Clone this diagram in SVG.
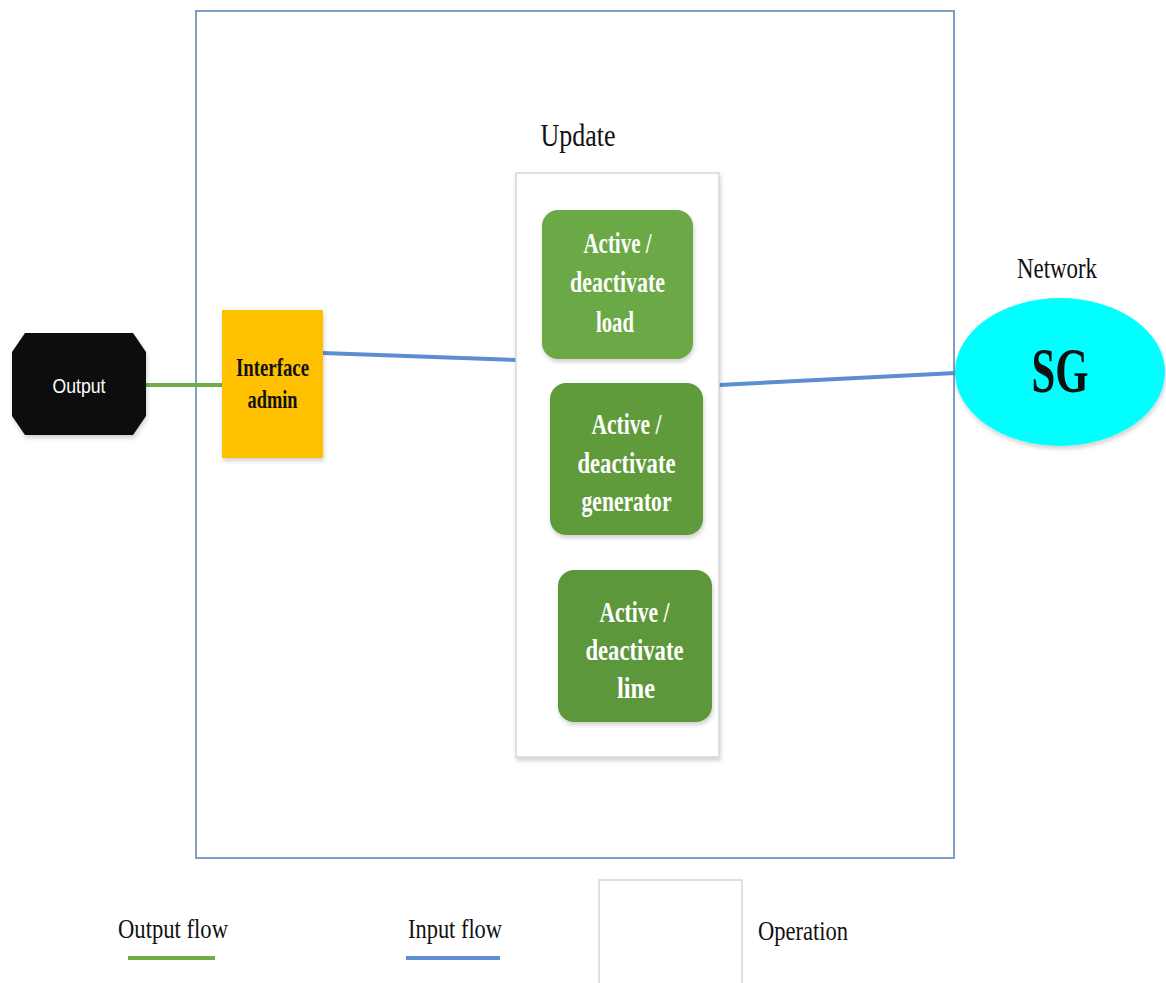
<svg xmlns="http://www.w3.org/2000/svg" width="1166" height="983" viewBox="0 0 1166 983">
<style>
.serif{font-family:"Liberation Serif","Times New Roman",serif;fill:#111}
.op{font-family:"Liberation Serif","Times New Roman",serif;font-weight:bold;fill:#ffffff;text-anchor:middle}
.flowg{stroke:#70ad47;stroke-width:4;fill:none}
.flowb{stroke:#5b8fd0;stroke-width:4;fill:none}
</style>
<defs>
<filter id="sh" x="-10%" y="-10%" width="125%" height="125%">
<feDropShadow dx="1" dy="3" stdDeviation="2" flood-color="#000" flood-opacity="0.18"/>
</filter>
</defs>
<rect width="1166" height="983" fill="#ffffff"/>
<g id="system-boundary">
<rect x="196" y="11" width="758" height="847" fill="none" stroke="#7f9fc6" stroke-width="2"/>
</g>
<g id="connectors">
<line class="flowg" x1="146" y1="385" x2="222" y2="385" stroke-width="3"/>
<line class="flowb" x1="323" y1="353" x2="517" y2="360" stroke-width="3"/>
<line class="flowb" x1="719" y1="385" x2="956" y2="373" stroke-width="3"/>
</g>
<g id="update">
<text class="serif" x="578" y="146" font-size="32" text-anchor="middle" textLength="75" lengthAdjust="spacingAndGlyphs">Update</text>
<rect x="516" y="173" width="203" height="584" fill="#ffffff" stroke="#d6d6d6" stroke-width="1.5" filter="url(#sh)"/>
</g>
<g id="output">
<polygon points="25,333 133,333 146,352 146,416 133,435 25,435 12,416 12,352" fill="#0d0d0d" filter="url(#sh)"/>
<text x="79" y="393" font-family="Liberation Sans, Arial, sans-serif" font-size="20" fill="#ffffff" text-anchor="middle" textLength="53" lengthAdjust="spacingAndGlyphs">Output</text>
</g>
<g id="interface-admin">
<rect x="222" y="310" width="101" height="148" fill="#ffc000" filter="url(#sh)"/>
<text class="serif" x="272.5" y="376" font-size="25" font-weight="bold" text-anchor="middle" textLength="73" lengthAdjust="spacingAndGlyphs">Interface</text>
<text class="serif" x="272.5" y="408" font-size="25" font-weight="bold" text-anchor="middle" textLength="50" lengthAdjust="spacingAndGlyphs">admin</text>
</g>
<g id="load">
<rect x="542" y="210" width="151" height="149" rx="16" fill="#6aa945" filter="url(#sh)"/>
<text class="op" x="617.5" y="253" font-size="29" textLength="68" lengthAdjust="spacingAndGlyphs">Active /</text>
<text class="op" x="617.5" y="292" font-size="29" textLength="95" lengthAdjust="spacingAndGlyphs">deactivate</text>
<text class="op" x="615" y="332" font-size="29" textLength="38" lengthAdjust="spacingAndGlyphs">load</text>
</g>
<g id="generator">
<rect x="550" y="383" width="153" height="152" rx="16" fill="#5e9b3b" filter="url(#sh)"/>
<text class="op" x="626.5" y="434" font-size="29" textLength="70" lengthAdjust="spacingAndGlyphs">Active /</text>
<text class="op" x="626.5" y="473" font-size="29" textLength="98" lengthAdjust="spacingAndGlyphs">deactivate</text>
<text class="op" x="626.5" y="511" font-size="29" textLength="90" lengthAdjust="spacingAndGlyphs">generator</text>
</g>
<g id="line">
<rect x="558" y="570" width="154" height="152" rx="16" fill="#5c973a" filter="url(#sh)"/>
<text class="op" x="634.5" y="622" font-size="29" textLength="70" lengthAdjust="spacingAndGlyphs">Active /</text>
<text class="op" x="634.5" y="660" font-size="29" textLength="98" lengthAdjust="spacingAndGlyphs">deactivate</text>
<text class="op" x="636" y="698" font-size="29" textLength="38" lengthAdjust="spacingAndGlyphs">line</text>
</g>
<g id="network">
<text class="serif" x="1057" y="278" font-size="29" text-anchor="middle" textLength="80" lengthAdjust="spacingAndGlyphs">Network</text>
<ellipse cx="1060" cy="372" rx="105" ry="74" fill="#00ffff" filter="url(#sh)"/>
<text class="serif" x="1060" y="392" font-size="64" font-weight="bold" fill="#000" text-anchor="middle" textLength="57" lengthAdjust="spacingAndGlyphs">SG</text>
</g>
<g id="legend">
<text class="serif" x="173" y="938" font-size="27" text-anchor="middle" textLength="110" lengthAdjust="spacingAndGlyphs">Output flow</text>
<line class="flowg" x1="128" y1="958" x2="215" y2="958"/>
<text class="serif" x="455" y="938" font-size="27" text-anchor="middle" textLength="94" lengthAdjust="spacingAndGlyphs">Input flow</text>
<line class="flowb" x1="406" y1="958" x2="500" y2="958"/>
<rect x="599" y="880" width="143" height="110" fill="#ffffff" stroke="#d6d6d6" stroke-width="1.5"/>
<text class="serif" x="803" y="940" font-size="27" text-anchor="middle" textLength="90" lengthAdjust="spacingAndGlyphs">Operation</text>
</g>
</svg>
